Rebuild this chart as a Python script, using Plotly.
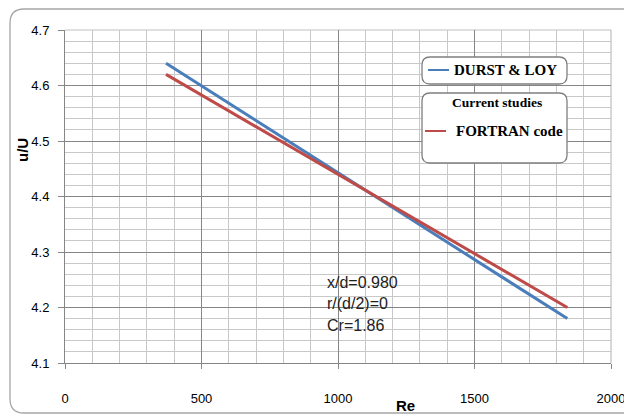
import plotly.graph_objects as go

# ---- data ----
re_durst = [370, 1840]
u_durst = [4.64, 4.18]
re_fortran = [370, 1840]
u_fortran = [4.62, 4.20]
x_ticks = [0, 500, 1000, 1500, 2000]
y_ticks = [4.1, 4.2, 4.3, 4.4, 4.5, 4.6, 4.7]
series_names = ["DURST & LOY", "FORTRAN code"]
legend_group_title = "Current studies"
note_lines = ["x/d=0.980", "r/(d/2)=0", "Cr=1.86"]

W, H = 624, 420
L, R, T, B = 65, 611, 30, 363

def px(x):
    return (x - L) / (R - L)

def py(y):
    return (B - y) / (B - T)

BLUE = "#4A7EBB"
RED = "#BE4B48"
SANS = "Liberation Sans, Arial, sans-serif"
SERIF = "Liberation Serif, Times New Roman, serif"

fig = go.Figure()
fig.add_trace(go.Scatter(x=re_durst, y=u_durst, mode="lines", name=series_names[0],
                         line=dict(color=BLUE, width=3), showlegend=False))
fig.add_trace(go.Scatter(x=re_fortran, y=u_fortran, mode="lines", name=series_names[1],
                         line=dict(color=RED, width=3), showlegend=False))

def rrect(x0, y0, x1, y1, r):
    return (f"M {px(x0 + r)},{py(y0)} L {px(x1 - r)},{py(y0)} "
            f"Q {px(x1)},{py(y0)} {px(x1)},{py(y0 + r)} "
            f"L {px(x1)},{py(y1 - r)} Q {px(x1)},{py(y1)} {px(x1 - r)},{py(y1)} "
            f"L {px(x0 + r)},{py(y1)} Q {px(x0)},{py(y1)} {px(x0)},{py(y1 - r)} "
            f"L {px(x0)},{py(y0 + r)} Q {px(x0)},{py(y0)} {px(x0 + r)},{py(y0)} Z")

shapes = []
# outer chart border
shapes.append(dict(type="path", xref="paper", yref="paper",
                   path=rrect(10, 9, 640, 413, 14),
                   line=dict(color="#A6A6A6", width=1.3), fillcolor="rgba(0,0,0,0)", layer="below"))
# top and right plot-area edges (light grid colour)
shapes.append(dict(type="line", xref="paper", yref="paper", x0=0, x1=1, y0=1, y1=1,
                   line=dict(color="#C0C0C0", width=1), layer="below"))
shapes.append(dict(type="line", xref="paper", yref="paper", x0=1, x1=1, y0=0, y1=1,
                   line=dict(color="#B0B0B0", width=1), layer="below"))
# legend boxes
shapes.append(dict(type="path", xref="paper", yref="paper", path=rrect(422, 57, 567, 84, 8),
                   line=dict(color="#7F7F7F", width=1.3), fillcolor="white"))
shapes.append(dict(type="path", xref="paper", yref="paper", path=rrect(422, 93, 567, 163, 8),
                   line=dict(color="#7F7F7F", width=1.3), fillcolor="white"))
# legend samples
shapes.append(dict(type="line", xref="paper", yref="paper", x0=px(428), x1=px(449), y0=py(70), y1=py(70),
                   line=dict(color=BLUE, width=2)))
shapes.append(dict(type="line", xref="paper", yref="paper", x0=px(425), x1=px(446), y0=py(131), y1=py(131),
                   line=dict(color=RED, width=2)))

annotations = [
    dict(xref="paper", yref="paper", x=px(452), y=py(70), text="<b>" + series_names[0] + "</b>",
         showarrow=False, xanchor="left", yanchor="middle", font=dict(family=SERIF, size=15, color="black")),
    dict(xref="paper", yref="paper", x=px(497), y=py(102), text="<b>" + legend_group_title + "</b>",
         showarrow=False, xanchor="center", yanchor="middle", font=dict(family=SERIF, size=13.5, color="black")),
    dict(xref="paper", yref="paper", x=px(454), y=py(131), text="<b>" + series_names[1] + "</b>",
         showarrow=False, xanchor="left", yanchor="middle", font=dict(family=SERIF, size=15, color="black")),
    dict(xref="paper", yref="paper", x=px(405), y=py(405), text="<b>Re</b>", showarrow=False,
         xanchor="center", yanchor="middle", font=dict(family=SANS, size=15, color="black")),
    dict(xref="paper", yref="paper", x=px(22), y=py(150), text="<b>u/U</b>", showarrow=False, textangle=-90,
         xanchor="center", yanchor="middle", font=dict(family=SANS, size=15, color="black")),
]
for i, t in enumerate(note_lines):
    annotations.append(dict(xref="paper", yref="paper", x=px(325), y=py(282 + 21.5 * i), text=t,
                            showarrow=False, xanchor="left", yanchor="middle",
                            font=dict(family=SANS, size=16, color="#222222")))

fig.update_layout(
    width=W, height=H,
    margin=dict(l=L, r=W - R, t=T, b=H - B, autoexpand=False),
    paper_bgcolor="white", plot_bgcolor="white",
    shapes=shapes, annotations=annotations,
    xaxis=dict(range=[0, 2000], tickvals=x_ticks, ticks="outside", ticklen=5, tickcolor="#868686",
               showgrid=True, gridcolor="#868686", gridwidth=1,
               minor=dict(dtick=100, showgrid=True, gridcolor="#C8C8C8", gridwidth=1),
               showline=True, linecolor="#868686", linewidth=1, zeroline=False,
               ticklabelstandoff=18, ticklabeloverflow="allow", automargin=False,
               tickfont=dict(family=SANS, size=13, color="black"),
               fixedrange=True),
    yaxis=dict(range=[4.1, 4.7], tickvals=y_ticks, tickformat=".1f", ticks="outside", ticklen=6,
               tickcolor="#868686",
               showgrid=True, gridcolor="#868686", gridwidth=1,
               minor=dict(dtick=0.02, showgrid=True, gridcolor="#C8C8C8", gridwidth=1),
               showline=True, linecolor="#868686", linewidth=1, zeroline=False,
               ticklabelstandoff=6, automargin=False,
               tickfont=dict(family=SANS, size=13, color="black"),
               fixedrange=True),
    showlegend=False,
)
fig.write_html("out.html")
